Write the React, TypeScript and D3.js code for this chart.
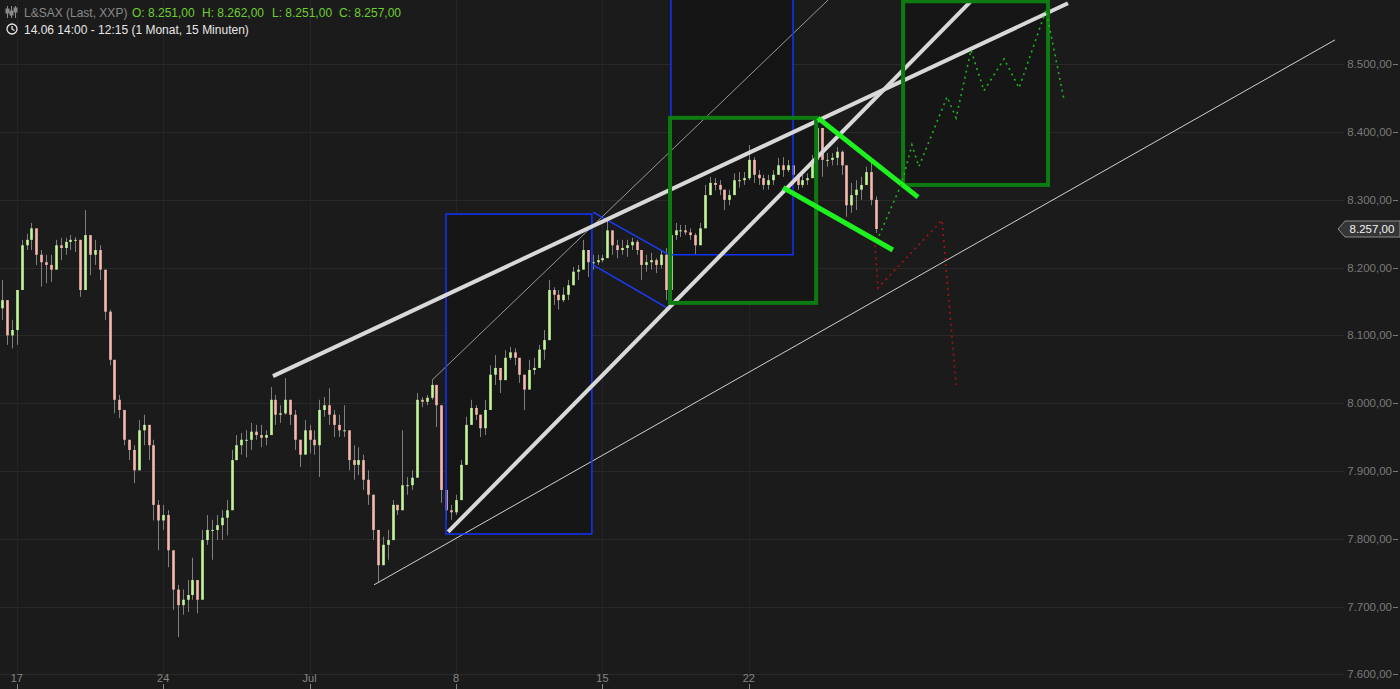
import React from 'react';
import * as d3 from 'd3';

const W = 1400;
const H = 689;

// ---- price data: 15-min series summarised in bars of 1/6 trading day ----
const START_DAY = -0.5; // trading-day index of first bar (Mon 17 Jun = 0)
const BAR_STEP = 1 / 6;
const FIRST_OPEN = 8140;
const closes = [
  8152, 8100, 8108, 8167, 8233, 8241, 8258, 8219, 8208, 8204, 8197, 8233, 8229, 8238, 8241, 8241, 8167, 8248, 8219, 8226,
  8197, 8135, 8064, 8005, 7990, 7946, 7931, 7901, 7960, 7968, 7938, 7850, 7827, 7835, 7783, 7725, 7702, 7710, 7717, 7739,
  7710, 7798, 7813, 7813, 7820, 7831, 7842, 7916, 7938, 7946, 7946, 7958, 7953, 7949, 7953, 8005, 7983, 7985, 8005, 7983,
  7946, 7924, 7960, 7946, 7938, 7990, 7997, 7983, 7968, 7960, 7960, 7916, 7909, 7916, 7887, 7865, 7813, 7761, 7791, 7798,
  7850, 7842, 7879, 7879, 7890, 8005, 8002, 8008, 8027, 7997, 7872, 7842, 7839, 7857, 7909, 7968, 7993, 7983, 7963, 7990,
  8042, 8052, 8034, 8067, 8075, 8067, 8042, 8020, 8049, 8052, 8079, 8093, 8167, 8160, 8152, 8160, 8174, 8194, 8197, 8226,
  8208, 8208, 8211, 8214, 8255, 8233, 8226, 8229, 8233, 8238, 8226, 8204, 8208, 8211, 8204, 8219, 8167, 8248, 8255, 8255,
  8252, 8248, 8233, 8258, 8307, 8325, 8322, 8315, 8300, 8307, 8329, 8329, 8332, 8359, 8337, 8332, 8322, 8329, 8337, 8351,
  8344, 8351, 8337, 8322, 8329, 8332, 8359, 8406, 8359, 8359, 8362, 8371, 8351, 8292, 8307, 8315, 8322, 8341, 8300, 8257,
];
const highs = [
  8182, 8152, 8123, 8167, 8241, 8250, 8266, 8248, 8226, 8219, 8219, 8241, 8244, 8244, 8248, 8245, 8241, 8285, 8248, 8241,
  8233, 8174, 8138, 8051, 8012, 7990, 7946, 7938, 7975, 7983, 7968, 7946, 7857, 7850, 7842, 7769, 7732, 7725, 7739, 7772,
  7739, 7813, 7835, 7828, 7835, 7842, 7857, 7931, 7953, 7956, 7960, 7971, 7968, 7968, 7960, 8024, 8012, 7997, 8037, 8005,
  7990, 7946, 7975, 7968, 7960, 8005, 8009, 8022, 7990, 7983, 7997, 7953, 7938, 7935, 7924, 7901, 7850, 7798, 7803, 7813,
  7857, 7850, 7960, 7891, 7901, 8015, 8009, 8012, 8034, 8012, 7975, 7872, 7850, 7865, 7916, 7980, 8005, 7997, 7983, 8005,
  8056, 8071, 8049, 8078, 8083, 8081, 8064, 8042, 8064, 8067, 8086, 8108, 8182, 8171, 8167, 8171, 8182, 8201, 8204, 8241,
  8226, 8219, 8219, 8219, 8270, 8248, 8241, 8241, 8241, 8244, 8241, 8219, 8219, 8222, 8214, 8226, 8229, 8260, 8266, 8263,
  8263, 8258, 8251, 8266, 8322, 8334, 8332, 8329, 8315, 8315, 8339, 8341, 8341, 8381, 8363, 8344, 8337, 8337, 8344, 8362,
  8363, 8359, 8351, 8329, 8337, 8339, 8366, 8413, 8403, 8369, 8369, 8378, 8373, 8349, 8325, 8329, 8334, 8349, 8359, 8305,
];
const lows = [
  8123, 8086, 8081, 8086, 8167, 8226, 8226, 8204, 8172, 8177, 8179, 8204, 8211, 8219, 8226, 8223, 8157, 8167, 8189, 8204,
  8182, 8123, 8056, 7985, 7978, 7938, 7916, 7882, 7901, 7938, 7916, 7827, 7783, 7813, 7758, 7695, 7655, 7688, 7692, 7710,
  7690, 7739, 7791, 7769, 7798, 7798, 7805, 7857, 7916, 7924, 7920, 7931, 7946, 7935, 7938, 7960, 7968, 7971, 7983, 7968,
  7931, 7906, 7931, 7926, 7924, 7891, 7980, 7968, 7950, 7950, 7950, 7901, 7887, 7894, 7872, 7850, 7798, 7735, 7761, 7769,
  7835, 7835, 7872, 7865, 7872, 7990, 7994, 7997, 8005, 7965, 7853, 7828, 7828, 7835, 7865, 7909, 7975, 7975, 7950, 7953,
  8012, 8027, 8015, 8049, 8064, 8056, 8030, 7990, 8034, 8042, 8056, 8064, 8093, 8145, 8138, 8149, 8152, 8179, 8182, 8208,
  8186, 8197, 8204, 8208, 8233, 8219, 8214, 8219, 8216, 8226, 8219, 8182, 8194, 8197, 8192, 8199, 8152, 8160, 8241, 8245,
  8248, 8241, 8219, 8245, 8263, 8307, 8314, 8307, 8285, 8292, 8315, 8318, 8322, 8329, 8325, 8322, 8315, 8315, 8322, 8337,
  8334, 8341, 8329, 8315, 8318, 8322, 8337, 8388, 8334, 8349, 8351, 8351, 8337, 8275, 8281, 8285, 8300, 8329, 8292, 8251,
];

// ---- axes ----
const priceTicks = [7600, 7700, 7800, 7900, 8000, 8100, 8200, 8300, 8400, 8500];
const dateTickDays = [0, 5, 10, 15, 20, 25];
const dateTickLabels = ['17', '24', 'Jul', '8', '15', '22'];
const lastPrice = 8257;

// ---- drawings (trading-day index, price) ----
const thickLineA = [[8.75, 8040], [35.9, 8590]];
const thickLineB = [[14.73, 7810], [32.63, 8595]];
const thinLineA = [[12.2, 7732], [45.02, 8536]];
const thinLineB = [[14.18, 8034], [27.71, 8595]];
const blueChannelTop = [[19.68, 8282], [22.24, 8220]];
const blueChannelBottom = [[19.68, 8204], [22.31, 8138]];
const flagLineTop = [[27.36, 8421], [30.78, 8304]];
const flagLineBottom = [[26.17, 8318], [29.92, 8226]];
const blueBoxA = [[14.66, 8279], [19.64, 7807]];
const blueBoxB = [[22.34, 8620], [26.51, 8219]];
const greenBoxA = [[22.31, 8421], [27.3, 8148]];
const greenBoxB = [[30.27, 8593], [35.22, 8322]];
const bullPath = [
  [29.45, 8247], [30.23, 8325], [30.57, 8381], [30.81, 8349], [31.77, 8452], [32.08, 8421],
  [32.59, 8521], [33.03, 8461], [33.72, 8508], [34.23, 8465], [35.15, 8580], [35.76, 8449],
];
const bearPath = [[29.31, 8233], [29.41, 8170], [31.6, 8270], [32.08, 8027]];

const x = d3.scaleLinear().domain([0, 25]).range([16.8, 748.8]);
const y = d3.scaleLinear().domain([7600, 8500]).range([674.3, 64.3]);

const fmt = (v: number) => {
  const s = v.toFixed(2);
  const [i, dec] = s.split('.');
  return i.replace(/\B(?=(\d{3})+(?!\d))/g, '.') + ',' + dec;
};

const line = d3.line<number[]>().x((d) => x(d[0])).y((d) => y(d[1]));

function Box({ pts, stroke, sw, fill }: { pts: number[][]; stroke: string; sw: number; fill: string }) {
  const x0 = x(pts[0][0]);
  const x1 = x(pts[1][0]);
  const y0 = y(pts[0][1]);
  const y1 = y(pts[1][1]);
  return <rect x={Math.min(x0, x1)} y={Math.min(y0, y1)} width={Math.abs(x1 - x0)} height={Math.abs(y1 - y0)} fill={fill} stroke={stroke} strokeWidth={sw} />;
}

export default function App() {
  const candles = closes.map((c, i) => {
    const o = i === 0 ? FIRST_OPEN : closes[i - 1];
    return { d: START_DAY + i * BAR_STEP, o, c, h: highs[i], l: lows[i] };
  });
  const font = 'Liberation Sans, Arial, sans-serif';
  const plotRight = 1340;
  return (
    <svg width={W} height={H} style={{ position: 'absolute', left: 0, top: 0, display: 'block' }}>
      <defs>
        <clipPath id="plot">
          <rect x={0} y={0} width={plotRight} height={674} />
        </clipPath>
      </defs>
      <rect x={0} y={0} width={W} height={H} fill="#1c1b1b" />
      {/* grid */}
      {priceTicks.map((p) => (
        <line key={'g' + p} x1={0} x2={plotRight + 4} y1={Math.round(y(p)) + 0.5} y2={Math.round(y(p)) + 0.5} stroke="#2a2928" strokeWidth={1} />
      ))}
      {dateTickDays.map((d) => (
        <line key={'v' + d} x1={Math.round(x(d)) + 0.5} x2={Math.round(x(d)) + 0.5} y1={0} y2={674} stroke="#262525" strokeWidth={1} />
      ))}
      <g clipPath="url(#plot)">
        {/* box fills */}
        <Box pts={blueBoxB} stroke="none" sw={0} fill="#141414" />
        <Box pts={blueBoxA} stroke="none" sw={0} fill="#161616" />
        <Box pts={greenBoxA} stroke="none" sw={0} fill="#161616" />
        <Box pts={greenBoxB} stroke="none" sw={0} fill="#161616" />
        {/* candles */}
        {candles.map((k, i) => {
          const cx = Math.round(x(k.d)) + 0.5;
          const up = k.c >= k.o;
          const yt = y(Math.max(k.o, k.c));
          const yb = y(Math.min(k.o, k.c));
          return (
            <g key={'c' + i}>
              <line x1={cx} x2={cx} y1={y(k.h)} y2={y(k.l)} stroke="#807e7c" strokeWidth={1} />
              <rect x={cx - 1.3} y={yt} width={2.6} height={Math.max(1, yb - yt)} fill={up ? '#c2f59c' : '#f7b9ae'} />
            </g>
          );
        })}
        {/* thin lines */}
        <path d={line(thinLineA) || ''} stroke="#d0d0d0" strokeWidth={1} fill="none" />
        <path d={line(thinLineB) || ''} stroke="#b8b8b8" strokeWidth={0.8} fill="none" />
        {/* blue boxes and channel */}
        <Box pts={blueBoxA} stroke="#1133ff" sw={1.5} fill="none" />
        <Box pts={blueBoxB} stroke="#1133ff" sw={1.5} fill="none" />
        <path d={line(blueChannelTop) || ''} stroke="#1a3cff" strokeWidth={1.5} fill="none" />
        <path d={line(blueChannelBottom) || ''} stroke="#1a3cff" strokeWidth={1.5} fill="none" />
        {/* thick white trend lines */}
        <path d={line(thickLineA) || ''} stroke="#d9d9d9" strokeWidth={4} fill="none" />
        <path d={line(thickLineB) || ''} stroke="#d9d9d9" strokeWidth={4} fill="none" />
        {/* green boxes */}
        <Box pts={greenBoxA} stroke="#0d7a12" sw={4} fill="none" />
        <Box pts={greenBoxB} stroke="#0d7a12" sw={4} fill="none" />
        {/* flag lines */}
        <path d={line(flagLineTop) || ''} stroke="#1ff01f" strokeWidth={5} fill="none" />
        <path d={line(flagLineBottom) || ''} stroke="#1ff01f" strokeWidth={5} fill="none" />
        {/* projections */}
        <path d={line(bullPath) || ''} stroke="#1fb51f" strokeWidth={1.6} strokeDasharray="2 4" fill="none" />
        <path d={line(bearPath) || ''} stroke="#a31414" strokeWidth={1.6} strokeDasharray="2 4" fill="none" />
      </g>
      {/* y axis labels */}
      {priceTicks.map((p) => (
        <g key={'yl' + p}>
          <text x={1392} y={y(p) + 4} textAnchor="end" fill="#7a7a7a" fontSize={11.5} fontFamily={font}>
            {fmt(p)}
          </text>
          <line x1={1393} x2={1398} y1={Math.round(y(p)) + 0.5} y2={Math.round(y(p)) + 0.5} stroke="#7a7a7a" />
        </g>
      ))}
      {/* last price tag */}
      <path
        d={`M${1338},${y(lastPrice)} L${1345},${y(lastPrice) - 8} L${1400},${y(lastPrice) - 8} L${1400},${y(lastPrice) + 8} L${1345},${y(lastPrice) + 8} Z`}
        fill="#353535"
        stroke="#8c8c8c"
        strokeWidth={1}
      />
      <text x={1372} y={y(lastPrice) + 4} textAnchor="middle" fill="#f2f2f2" fontSize={11.5} fontFamily={font}>
        {fmt(lastPrice)}
      </text>
      {/* x axis */}
      {dateTickDays.map((d, i) => (
        <g key={'xl' + d}>
          <text x={x(d)} y={682} textAnchor="middle" fill="#858585" fontSize={11} fontFamily="Liberation Sans Narrow, Arial Narrow, Liberation Sans, sans-serif">
            {dateTickLabels[i]}
          </text>
          <line x1={Math.round(x(d)) + 0.5} x2={Math.round(x(d)) + 0.5} y1={684} y2={689} stroke="#858585" />
        </g>
      ))}
      {/* header */}
      <g stroke="#8a8a8a" strokeWidth={1} fill="none">
        <line x1={7.5} x2={7.5} y1={6} y2={18} />
        <line x1={11.5} x2={11.5} y1={6} y2={18} />
        <line x1={15.5} x2={15.5} y1={6} y2={18} />
        <rect x={6} y={9} width={3} height={4} fill="#8a8a8a" />
        <rect x={10} y={11} width={3} height={4} fill="#8a8a8a" />
        <rect x={14} y={8} width={3} height={4} fill="#8a8a8a" />
      </g>
      <text x={24} y={17} fill="#8a8a8a" fontSize={12} fontFamily={font}>
        L&amp;SAX (Last, XXP)
      </text>
      <text x={132} y={17} fill="#6ccf30" fontSize={12} fontFamily={font}>
        <tspan x={132}>O: 8.251,00</tspan>
        <tspan x={202}>H: 8.262,00</tspan>
        <tspan x={272}>L: 8.251,00</tspan>
        <tspan x={339}>C: 8.257,00</tspan>
      </text>
      <g stroke="#e6e6e6" strokeWidth={1.3} fill="none">
        <circle cx={12} cy={29} r={5} />
        <path d="M12,26 L12,29 L14.5,30.5" />
      </g>
      <text x={24} y={34} fill="#e6e6e6" fontSize={12} fontFamily={font}>
        14.06 14:00 - 12:15 (1 Monat, 15 Minuten)
      </text>
    </svg>
  );
}
